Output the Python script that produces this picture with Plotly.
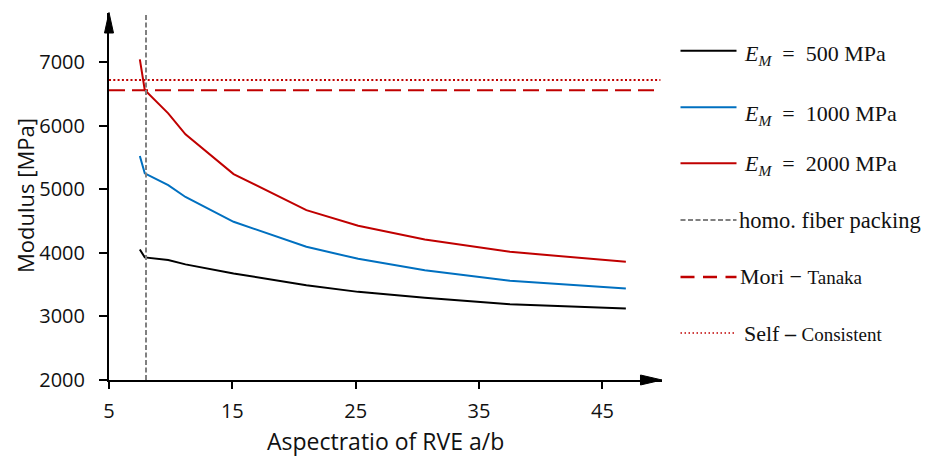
import plotly.graph_objects as go

# ---------------- data ----------------
aspect_ratio = [7.5, 7.9, 9.8, 11.2, 15.1, 21.0, 25.2, 30.6, 37.5, 46.9]
modulus_500 = [4055, 3930, 3887, 3820, 3677, 3493, 3387, 3293, 3194, 3126]
modulus_1000 = [5524, 5252, 5068, 4880, 4490, 4096, 3907, 3729, 3561, 3441]
modulus_2000 = [7047, 6564, 6197, 5866, 5241, 4674, 4427, 4213, 4017, 3860]
homo_packing_ar = 8.0
mori_tanaka = 6560
self_consistent = 6720
ref_line_x = [5, 49.7]
x_ticks = [5, 15, 25, 35, 45]
y_ticks = [2000, 3000, 4000, 5000, 6000, 7000]
x_range = [5, 49.83]
y_range = [2000, 7776]
series_names = ["500", "1000", "2000"]

# ---------------- layout geometry ----------------
W, H = 935, 457
ML, MT, MB = 109, 13, 77
PW = W - ML
PH = H - MT - MB
X_DOMAIN_END = (662 - ML) / PW


def px_x(px):
    return (px - ML) / PW


def px_y(py):
    return (H - MB - py) / PH


def paper_path(points):
    segs = []
    for i, (a, b) in enumerate(points):
        segs.append(("M" if i == 0 else "L") + f" {px_x(a):.5f},{px_y(b):.5f}")
    return " ".join(segs) + " Z"


BLACK = "#000000"
BLUE = "#0070C0"
RED = "#C00000"
GRAY = "#808080"
TXT = "#111111"
SANS = "Open Sans, Segoe UI, sans-serif"
SERIF = "Liberation Serif, DejaVu Serif, serif"

fig = go.Figure()

for ys, col in zip([modulus_500, modulus_1000, modulus_2000], [BLACK, BLUE, RED]):
    fig.add_trace(go.Scatter(x=aspect_ratio, y=ys, mode="lines",
                             line=dict(color=col, width=2), showlegend=False,
                             hoverinfo="skip"))

fig.add_trace(go.Scatter(x=ref_line_x, y=[mori_tanaka, mori_tanaka], mode="lines",
                         line=dict(color=RED, width=2, dash="16px,7px"),
                         showlegend=False, hoverinfo="skip"))
fig.add_trace(go.Scatter(x=ref_line_x, y=[self_consistent, self_consistent], mode="lines",
                         line=dict(color=RED, width=2, dash="2px,2.3px"),
                         showlegend=False, hoverinfo="skip"))

shapes = []
# vertical homogeneous fiber packing line
shapes.append(dict(type="line", xref="x", yref="y", x0=homo_packing_ar, x1=homo_packing_ar,
                   y0=y_range[0], y1=y_range[1],
                   line=dict(color=GRAY, width=2, dash="5px,2.5px"), layer="above"))
# axis arrowheads (paper coordinates, not clipped)
shapes.append(dict(type="path", xref="paper", yref="paper",
                   path=paper_path([(640.5, 375.0), (662.0, 380.0), (640.5, 385.0)]),
                   fillcolor=BLACK, line=dict(color=BLACK, width=1), layer="above"))
shapes.append(dict(type="path", xref="paper", yref="paper",
                   path=paper_path([(104.5, 33.0), (109.0, 12.5), (113.5, 33.0)]),
                   fillcolor=BLACK, line=dict(color=BLACK, width=1), layer="above"))

# ---------------- custom legend ----------------
leg_x0, leg_x1 = 680.5, 736.5
legend_rows = [
    (50.7, dict(color=BLACK, width=2)),
    (107.3, dict(color=BLUE, width=2)),
    (163.3, dict(color=RED, width=2)),
    (220.0, dict(color=GRAY, width=2, dash="5px,2.5px")),
    (277.0, dict(color=RED, width=2.5, dash="14px,8.5px")),
    (333.0, dict(color=RED, width=1.5, dash="1.5px,2.5px")),
]
for yy, ln in legend_rows:
    shapes.append(dict(type="line", xref="paper", yref="paper",
                       x0=px_x(leg_x0), x1=px_x(leg_x1), y0=px_y(yy), y1=px_y(yy),
                       line=ln))

annotations = []
em_rows = [(55.5, series_names[0]), (115.5, series_names[1]), (165.0, series_names[2])]
for yy, v in em_rows:
    annotations.append(dict(
        xref="paper", yref="paper", x=px_x(742), y=px_y(yy), xanchor="left", yanchor="middle",
        text="<i>E</i><sub><i>M</i></sub>\u00a0 =\u00a0 " + v + " MPa", showarrow=False,
        font=dict(family=SERIF, size=22, color=TXT)))
annotations.append(dict(
    xref="paper", yref="paper", x=px_x(737), y=px_y(220), xanchor="left", yanchor="middle",
    text="homo. fiber packing", showarrow=False,
    font=dict(family=SERIF, size=22.5, color=TXT)))
annotations.append(dict(
    xref="paper", yref="paper", x=px_x(738), y=px_y(276), xanchor="left", yanchor="middle",
    text="Mori − <span style='font-size:19px'>Tanaka</span>", showarrow=False,
    font=dict(family=SERIF, size=22, color=TXT)))
annotations.append(dict(
    xref="paper", yref="paper", x=px_x(742), y=px_y(333), xanchor="left", yanchor="middle",
    text="Self <b>–</b> <span style='font-size:19px'>Consistent</span>", showarrow=False,
    font=dict(family=SERIF, size=22, color=TXT)))

# axis titles
annotations.append(dict(
    xref="paper", yref="paper", x=px_x(385), y=px_y(441), xanchor="center", yanchor="middle",
    text="Aspectratio of RVE a/b", showarrow=False,
    font=dict(family=SANS, size=23, color=TXT)))
annotations.append(dict(
    xref="paper", yref="paper", x=px_x(25), y=px_y(196), xanchor="center", yanchor="middle",
    text="Modulus [MPa]", showarrow=False, textangle=-90,
    font=dict(family=SANS, size=22, color=TXT)))

fig.update_layout(
    width=W, height=H,
    margin=dict(l=ML, r=0, t=MT, b=MB, pad=0),
    paper_bgcolor="white", plot_bgcolor="white",
    shapes=shapes, annotations=annotations,
    showlegend=False,
    xaxis=dict(domain=[0, X_DOMAIN_END], range=x_range, tickvals=x_ticks,
               ticktext=[str(v) for v in x_ticks],
               showgrid=False, zeroline=False, showline=True, linecolor=BLACK, linewidth=2,
               ticks="outside", ticklen=7, tickwidth=2, tickcolor=BLACK,
               tickfont=dict(family=SANS, size=20, color=TXT),
               ticklabelstandoff=5),
    yaxis=dict(range=y_range, tickvals=y_ticks, ticktext=[str(v) for v in y_ticks],
               showgrid=False, zeroline=False, showline=True, linecolor=BLACK, linewidth=2,
               ticks="outside", ticklen=8, tickwidth=2, tickcolor=BLACK,
               tickfont=dict(family=SANS, size=20, color=TXT),
               ticklabelstandoff=10),
)

fig.write_html("out.html")
